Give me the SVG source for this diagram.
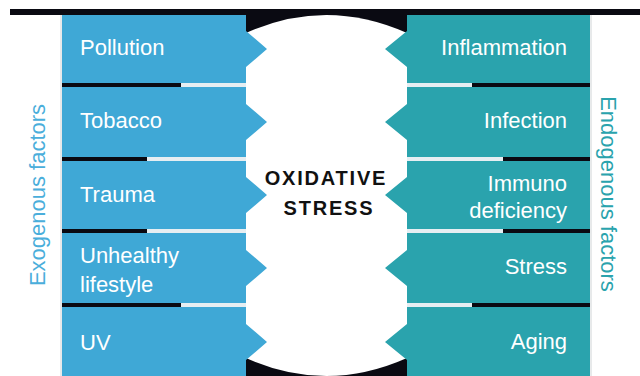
<svg xmlns="http://www.w3.org/2000/svg" width="640" height="376" viewBox="0 0 640 376">
<style>
.lab{font-family:"Liberation Sans",Arial,sans-serif;font-size:22px;fill:#ffffff}
.r{text-anchor:end}
.side{font-family:"Liberation Sans",Arial,sans-serif;font-size:22px;text-anchor:middle}
.ox{font-family:"Liberation Sans",Arial,sans-serif;font-size:20px;font-weight:bold;fill:#111111;letter-spacing:1.8px;text-anchor:middle}
.blue{fill:#3fa8d6}
.teal{fill:#2aa3ad}
.blk{fill:#0a0a12}
.lt{fill:#e6eef2}
</style>
<rect width="640" height="376" fill="#ffffff"/>
<!-- central background -->
<g id="center">
<rect x="240" y="9" width="172" height="367" class="blk"/>
<path d="M246,33 Q326,-3 407,33 L407,358 Q326,394 246,358 Z" fill="#ffffff"/>
<text class="ox" x="326" y="185">OXIDATIVE</text>
<text class="ox" x="329" y="215">STRESS</text>
</g>
<rect x="10" y="9" width="630" height="6" class="blk"/>
<!-- left column -->
<g id="left-col">
<line x1="61" y1="15" x2="61" y2="376" stroke="#d0d4d6" stroke-width="1"/>
<g id="pollution"><path class="blue" d="M62,15 H246 V31 L267,49 L246,67 V83 H62 Z"/><text class="lab" x="80" y="55">Pollution</text></g>
<rect x="62" y="83" width="119" height="4" class="blk"/><rect x="181" y="83" width="65" height="4" class="lt"/>
<g id="tobacco"><path class="blue" d="M62,87 H246 V104 L267,122 L246,140 V157 H62 Z"/><text class="lab" x="80" y="128">Tobacco</text></g>
<rect x="62" y="157" width="85" height="4" class="blk"/><rect x="147" y="157" width="99" height="4" class="lt"/>
<g id="trauma"><path class="blue" d="M62,161 H246 V177 L267,195 L246,213 V229 H62 Z"/><text class="lab" x="80" y="202">Trauma</text></g>
<rect x="62" y="229" width="85" height="4" class="blk"/><rect x="147" y="229" width="99" height="4" class="lt"/>
<g id="unhealthy"><path class="blue" d="M62,233 H246 V250 L267,268 L246,286 V303 H62 Z"/><text class="lab" x="80" y="263">Unhealthy</text><text class="lab" x="80" y="292">lifestyle</text></g>
<rect x="62" y="303" width="119" height="4" class="blk"/><rect x="181" y="303" width="65" height="4" class="lt"/>
<g id="uv"><path class="blue" d="M62,307 H246 V324 L267,342 L246,360 V376 H62 Z"/><text class="lab" x="80" y="350">UV</text></g>
</g>
<!-- right column -->
<g id="right-col">
<line x1="591" y1="15" x2="591" y2="376" stroke="#d0d4d6" stroke-width="1"/>
<g id="inflammation"><path class="teal" d="M590,15 H407 V31 L385,49 L407,67 V83 H590 Z"/><text class="lab r" x="567" y="55">Inflammation</text></g>
<rect x="407" y="83" width="65" height="4" class="lt"/><rect x="472" y="83" width="118" height="4" class="blk"/>
<g id="infection"><path class="teal" d="M590,87 H407 V104 L385,122 L407,140 V157 H590 Z"/><text class="lab r" x="567" y="128">Infection</text></g>
<rect x="407" y="157" width="96" height="4" class="lt"/><rect x="503" y="157" width="87" height="4" class="blk"/>
<g id="immuno"><path class="teal" d="M590,161 H407 V177 L385,195 L407,213 V229 H590 Z"/><text class="lab r" x="567" y="191">Immuno</text><text class="lab r" x="567" y="218">deficiency</text></g>
<rect x="407" y="229" width="96" height="4" class="lt"/><rect x="503" y="229" width="87" height="4" class="blk"/>
<g id="stress"><path class="teal" d="M590,233 H407 V250 L385,268 L407,286 V303 H590 Z"/><text class="lab r" x="567" y="274">Stress</text></g>
<rect x="407" y="303" width="65" height="4" class="lt"/><rect x="472" y="303" width="118" height="4" class="blk"/>
<g id="aging"><path class="teal" d="M590,307 H407 V324 L385,342 L407,360 V376 H590 Z"/><text class="lab r" x="567" y="349">Aging</text></g>
</g>
<g id="side-labels">
<text class="side" fill="#4aaedb" transform="translate(45,195) rotate(-90)">Exogenous factors</text>
<text class="side" fill="#2aa3ad" transform="translate(601,194) rotate(90)">Endogenous factors</text>
</g>
</svg>
